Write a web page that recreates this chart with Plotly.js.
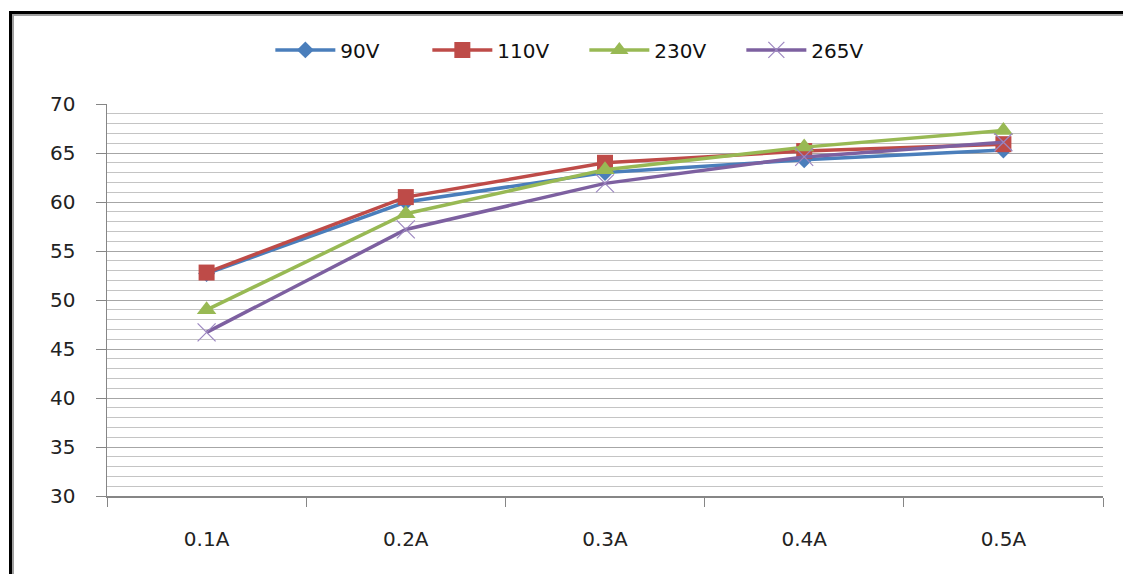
<!DOCTYPE html>
<html>
<head>
<meta charset="utf-8">
<script src="https://cdn.plot.ly/plotly-3.0.1.min.js"></script>
<style>
html,body{margin:0;padding:0;background:#fff;}
#wrap{position:relative;width:1123px;height:574px;overflow:hidden;}
#chart{position:absolute;left:0;top:0;width:1123px;height:574px;}
#frame{position:absolute;left:9px;top:11px;width:1200px;height:600px;border:3px solid #000;pointer-events:none;}
#frame2{position:absolute;left:12px;top:14px;width:1200px;height:600px;border:2px solid #a0a0a0;pointer-events:none;}
</style>
</head>
<body>
<div id="wrap">
<div id="chart"></div>
<div id="frame"></div>
<div id="frame2"></div>
</div>
<script>
var categories = ["0.1A", "0.2A", "0.3A", "0.4A", "0.5A"];
var v90  = [52.7, 60.0, 63.0, 64.3, 65.3];
var v110 = [52.8, 60.5, 64.0, 65.2, 65.9];
var v230 = [49.0, 58.8, 63.3, 65.6, 67.3];
var v265 = [46.7, 57.2, 61.9, 64.6, 66.1];

var traces = [
  {x: categories, y: v90, name: "90V", type: "scatter", mode: "lines+markers",
   line: {color: "#4A7EBB", width: 3.5}, marker: {symbol: "diamond", size: 13, color: "#4A7EBB"}},
  {x: categories, y: v110, name: "110V", type: "scatter", mode: "lines+markers",
   line: {color: "#BE4B48", width: 3.5}, marker: {symbol: "square", size: 16, color: "#BE4B48"}},
  {x: categories, y: v230, name: "230V", type: "scatter", mode: "lines+markers",
   line: {color: "#98B954", width: 3.5}, marker: {symbol: "triangle-up", size: 17, color: "#98B954"}},
  {x: categories, y: v265, name: "265V", type: "scatter", mode: "lines+markers",
   line: {color: "#7D60A0", width: 3.5}, marker: {symbol: "x-thin-open", size: 18, color: "#9c86c0", line: {width: 1.2, color: "#9c86c0"}}}
];

var layout = {
  width: 1123, height: 574,
  margin: {l: 107, r: 20, t: 104, b: 78},
  paper_bgcolor: "rgba(0,0,0,0)",
  plot_bgcolor: "#fff",
  font: {family: "DejaVu Sans, Verdana, sans-serif", size: 20, color: "#222"},
  showlegend: true,
  legend: {orientation: "h", x: 0.164, xanchor: "left", y: 1.138, yanchor: "middle",
           font: {size: 20, color: "#111"}, entrywidth: 82, entrywidthmode: "pixels",
           itemwidth: 60, tracegroupgap: 0},
  xaxis: {
    type: "category", tickson: "boundaries", ticks: "outside", ticklen: 9,
    tickcolor: "#868686", showline: true, linecolor: "#868686", linewidth: 1.5,
    showgrid: false, zeroline: false, range: [-0.5, 4.5],
    tickfont: {size: 20, color: "#222"}, ticklabelstandoff: 24
  },
  yaxis: {
    range: [30, 70], dtick: 5, ticks: "outside", ticklen: 10, tickcolor: "#868686",
    showline: true, linecolor: "#868686", linewidth: 1.5,
    showgrid: true, gridcolor: "#a6a6a6", gridwidth: 1, zeroline: false,
    minor: {dtick: 1, showgrid: true, gridcolor: "#c4c4c4", gridwidth: 1},
    tickfont: {size: 20, color: "#222"}, ticklabelstandoff: 16
  }
};

Plotly.newPlot("chart", traces, layout, {displayModeBar: false, staticPlot: true});
</script>
</body>
</html>
